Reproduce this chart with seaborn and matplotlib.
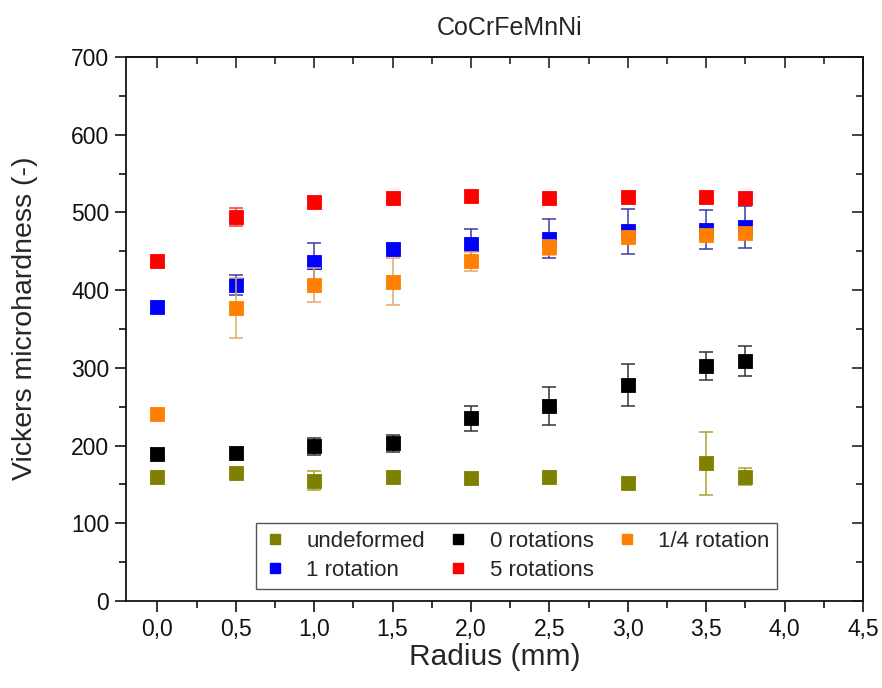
import numpy as np
import pandas as pd
import matplotlib
matplotlib.use("Agg")
import matplotlib.pyplot as plt
from matplotlib.ticker import MultipleLocator, FuncFormatter
from matplotlib.lines import Line2D
import seaborn as sns

# Measurement positions along the disc radius (mm)
radius = [0.0, 0.5, 1.0, 1.5, 2.0, 2.5, 3.0, 3.5, 3.75]

# Mean Vickers microhardness per condition
hv_undeformed = [160, 165, 155, 159, 158, 159, 152, 177, 160]
hv_rot0 = [189, 191, 199, 203, 235, 251, 278, 302, 309]
hv_rot_quarter = [241, 377, 407, 411, 437, 455, 469, 471, 473]
hv_rot1 = [378, 407, 436, 453, 459, 466, 476, 478, 481]
hv_rot5 = [438, 494, 513, 519, 521, 518, 520, 520, 518]

# Standard deviations (0 = bar hidden by the marker)
sd_undeformed = [0, 0, 12, 0, 0, 0, 0, 41, 11]
sd_rot0 = [0, 0, 11, 11, 16, 24, 27, 18, 19]
sd_rot_quarter = [0, 38, 22, 30, 12, 10, 0, 0, 0]
sd_rot1 = [0, 13, 25, 6, 20, 25, 29, 25, 27]
sd_rot5 = [0, 12, 0, 0, 0, 0, 0, 0, 0]

conditions = ["undeformed", "0 rotations", "1/4 rotation", "1 rotation", "5 rotations"]
marker_colors = ["#808000", "#000000", "#FF8000", "#0000FF", "#FF0000"]
errbar_colors = ["#a4a430", "#333333", "#e0a868", "#3a3aa8", "#e84040"]

means = [hv_undeformed, hv_rot0, hv_rot_quarter, hv_rot1, hv_rot5]
sds = [sd_undeformed, sd_rot0, sd_rot_quarter, sd_rot1, sd_rot5]

frames = []
for name, m, s in zip(conditions, means, sds):
    frames.append(pd.DataFrame({"radius": radius, "hv": m, "sd": s, "condition": name}))
df = pd.concat(frames, ignore_index=True)

sns.set_style("ticks")
plt.rcParams["font.family"] = ["Liberation Sans", "DejaVu Sans"]

fig = plt.figure(figsize=(8.82, 6.88), dpi=100)
ax = fig.add_axes([126 / 882, 1 - 601 / 688, 737 / 882, 544 / 688])

# draw order so that the orange series sits over the blue one
draw_order = ["undeformed", "0 rotations", "1 rotation", "5 rotations", "1/4 rotation"]
palette = dict(zip(conditions, marker_colors))
ecolors = dict(zip(conditions, errbar_colors))

for z, name in enumerate(draw_order):
    sub = df[df["condition"] == name]
    has_err = sub[sub["sd"] > 0]
    ax.errorbar(has_err["radius"], has_err["hv"], yerr=has_err["sd"], fmt="none",
                ecolor=ecolors[name], elinewidth=1.1, capsize=5, capthick=1.1,
                zorder=2 + 2 * z)
    sns.scatterplot(data=sub, x="radius", y="hv", color=palette[name], marker="s",
                    s=95, linewidth=0.6, edgecolor=palette[name], ax=ax,
                    zorder=3 + 2 * z, legend=False)

ax.set_xlim(-0.2, 4.5)
ax.set_ylim(0, 700)
ax.xaxis.set_major_locator(MultipleLocator(0.5))
ax.xaxis.set_minor_locator(MultipleLocator(0.25))
ax.yaxis.set_major_locator(MultipleLocator(100))
ax.yaxis.set_minor_locator(MultipleLocator(50))
ax.xaxis.set_major_formatter(FuncFormatter(lambda v, p: f"{v:.1f}".replace(".", ",")))

for sp in ax.spines.values():
    sp.set_visible(True)
    sp.set_linewidth(1.3)
    sp.set_color("#111111")

MAJ, MIN = 8.0, 4.8
ax.tick_params(which="major", direction="out", length=MAJ, width=1.2, labelsize=16.5,
               colors="#111111", pad=4)
ax.tick_params(which="minor", direction="out", length=MIN, width=1.2, colors="#111111")

# mirrored inward ticks on top and right
top = ax.secondary_xaxis("top")
top.xaxis.set_major_locator(MultipleLocator(0.5))
top.xaxis.set_minor_locator(MultipleLocator(0.25))
top.tick_params(which="major", direction="in", length=MAJ, width=1.2, labeltop=False)
top.tick_params(which="minor", direction="in", length=MIN, width=1.2)
top.spines["top"].set_linewidth(1.3)
right = ax.secondary_yaxis("right")
right.yaxis.set_major_locator(MultipleLocator(100))
right.yaxis.set_minor_locator(MultipleLocator(50))
right.tick_params(which="major", direction="in", length=MAJ, width=1.2, labelright=False)
right.tick_params(which="minor", direction="in", length=MIN, width=1.2)
right.spines["right"].set_linewidth(1.3)

ax.set_xlabel("Radius (mm)", fontsize=21.5, labelpad=2)
ax.set_ylabel("Vickers microhardness (-)", fontsize=20.5)
ax.yaxis.set_label_coords(-0.119, 0.52)
ax.set_title("CoCrFeMnNi", fontsize=18, pad=16, x=0.52)

legend_order = ["undeformed", "1 rotation", "0 rotations", "5 rotations", "1/4 rotation"]
handles = [Line2D([], [], linestyle="none", marker="s", markersize=7,
                  color=palette[n], markeredgecolor=palette[n]) for n in legend_order]
leg = ax.legend(handles, legend_order, ncol=3, loc="lower left",
                bbox_to_anchor=(0.177, 0.022), fontsize=16, frameon=True,
                fancybox=False, edgecolor="#555555", framealpha=1,
                handlelength=1.0, handletextpad=0.9, columnspacing=1.0,
                labelspacing=0.38, borderpad=0.35, borderaxespad=0)
leg.get_frame().set_linewidth(1.0)

fig.savefig("out.png", dpi=100)
